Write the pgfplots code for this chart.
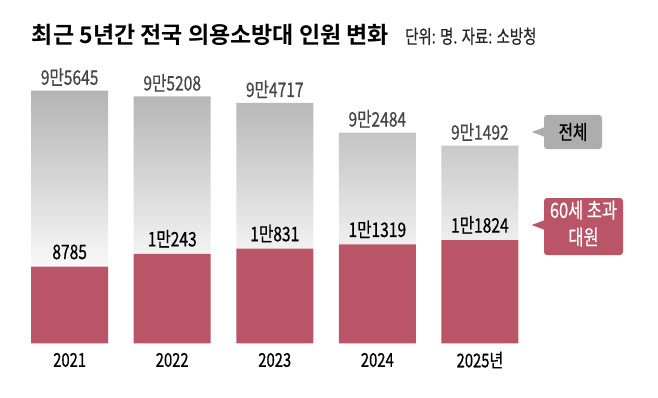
\documentclass[border=0pt]{standalone}
\usepackage{fontspec}
\usepackage{pgfplots}
\usepackage{pgfplotstable}
\pgfplotsset{compat=1.18}
\setmainfont{Noto Sans CJK KR}
\newfontfamily\titlefont{Noto Sans CJK KR Bold}
\newfontfamily\condfont{Noto Sans CJK KR}[FakeStretch=0.78, FakeBold=0.6]
\newfontfamily\subfont{Noto Sans CJK KR}[FakeStretch=0.76, FakeBold=0.4]
\definecolor{barred}{RGB}{186,85,104}
\definecolor{boxgray}{RGB}{173,173,173}
\definecolor{bartop}{RGB}{180,180,180}
\definecolor{barmid}{RGB}{202,202,202}
\definecolor{barbot}{RGB}{248,248,248}
\definecolor{lblgray}{RGB}{70,70,70}

\pgfplotstableread{
i year over60 total lblO lblT
0 2021 8785 95645 8785 9만5645
1 2022 10243 95208 1만243 9만5208
2 2023 10831 94717 1만831 9만4717
3 2024 11319 92484 1만1319 9만2484
4 2025 11824 91492 1만1824 9만1492
}\data

\pgfplotsset{
  basegeom/.style={
    at={(18.4pt,53.7pt)}, anchor=south west, scale only axis,
    width=512.75pt, height=300pt,
    xmin=-0.5, xmax=4.5, ymin=0, ymax=34364,
    clip=false,
  },
}

\begin{document}
\begin{tikzpicture}[x=1pt,y=1pt]
\fill[white] (0,0) rectangle (658,397);

\begin{axis}[basegeom,
  ybar stacked, bar width=77pt,
  axis line style={draw=none}, major tick length=0pt,
  ytick=\empty, xtick={0,1,2,3,4},
  xticklabels={2021,2022,2023,2024,2025년},
  xticklabel style={font=\condfont\fontsize{19}{21}\selectfont, anchor=center, inner sep=0pt, yshift=-16.7pt},
]
\addplot[fill=barred, draw=none] table[x=i, y=over60] {\data};
\addplot[draw=none, top color=bartop, middle color=barmid, bottom color=barbot]
  table[x=i, y expr={(\thisrow{total}-76566)*1.5166-\thisrow{over60}}] {\data};
\end{axis}

\begin{axis}[basegeom, hide axis]
\addplot[draw=none, mark=none, nodes near coords, point meta=explicit symbolic,
  every node near coord/.append style={anchor=base, inner sep=0pt, yshift=7.5pt,
    font=\condfont\fontsize{20}{22}\selectfont, text=black}]
  table[x=i, y=over60, meta=lblO] {\data};
\addplot[draw=none, mark=none, nodes near coords, point meta=explicit symbolic,
  every node near coord/.append style={anchor=base, inner sep=0pt, yshift=6pt,
    font=\condfont\fontsize{20}{22}\selectfont, text=lblgray}]
  table[x=i, y expr={(\thisrow{total}-76566)*1.5166}, meta=lblT] {\data};
\end{axis}

% title
\node[anchor=base west, inner sep=0pt] at (31.7,353) {\titlefont\fontsize{23}{27}\selectfont 최근 5년간 전국 의용소방대 인원 변화};
\node[anchor=base west, inner sep=0pt, text=black!85] at (405,353.5) {\subfont\fontsize{19}{21}\selectfont 단위: 명. 자료: 소방청};

% callouts
\fill[boxgray, rounded corners=3pt] (544,248) rectangle (602,282);
\fill[boxgray] (531.7,265) -- (545,260) -- (545,270) -- cycle;
\node[inner sep=0pt] at (573,265) {\condfont\fontsize{20}{22}\selectfont 전체};

\fill[barred, rounded corners=3pt] (544,142) rectangle (623,199);
\fill[barred] (531.7,172) -- (545,167) -- (545,177) -- cycle;
\node[inner sep=0pt, text=white] at (583.5,187) {\condfont\fontsize{21}{23}\selectfont 60세 초과};
\node[inner sep=0pt, text=white] at (583.5,160) {\condfont\fontsize{21}{23}\selectfont 대원};
\end{tikzpicture}
\end{document}
